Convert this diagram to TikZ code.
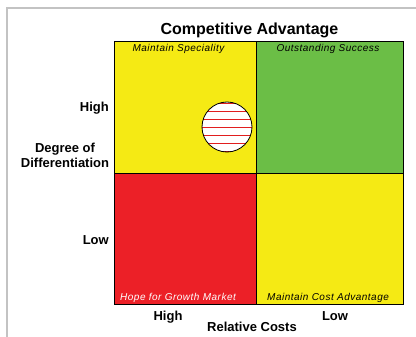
\documentclass[tikz,border=0pt]{standalone}
\usepackage{fontspec}
\setmainfont{Liberation Sans}
\newfontfamily\quadfont[LetterSpace=5]{Liberation Sans}
\definecolor{quadyellow}{RGB}{245,234,20}
\definecolor{quadgreen}{RGB}{107,190,70}
\definecolor{quadred}{RGB}{236,32,39}
\definecolor{hatchred}{RGB}{225,30,30}
\definecolor{framegray}{RGB}{195,195,195}

\begin{document}
\begin{tikzpicture}[x=1pt,y=-1pt,
  axis label/.style={font=\bfseries\fontsize{13}{15.6}\selectfont,align=center,inner sep=0pt},
  quad label/.style={font=\quadfont\itshape\fontsize{10}{12}\selectfont,inner sep=0pt},
  quad/.style={draw=black,line width=0.8pt}]

\useasboundingbox (0,0) rectangle (416,337);
\draw[framegray,line width=1.5pt] (7,337) -- (7,8) -- (416,8);

% the four quadrants
\filldraw[quad,fill=quadyellow] (114,41) rectangle (256,173);
\filldraw[quad,fill=quadgreen] (256,41) rectangle (403,173);
\filldraw[quad,fill=quadred] (114,173) rectangle (256,304);
\filldraw[quad,fill=quadyellow] (256,173) rectangle (403,304);

\node at (249.5,35) [anchor=base,inner sep=0pt,font=\bfseries\fontsize{16}{19}\selectfont] (title) {Competitive Advantage};

\node at (178.5,52) [quad label,anchor=base] (special) {Maintain Speciality};
\node at (328,52) [quad label,anchor=base] (success) {Outstanding Success};
\node at (120,301) [quad label,anchor=base west,text=white] (growth) {Hope for Growth Market};
\node at (267,301) [quad label,anchor=base west] (costadv) {Maintain Cost Advantage};

% company position
\node at (227,127) [circle,fill=white,minimum size=50pt,inner sep=0pt] (pos) {};
\begin{scope}
  \clip (227,127) circle (25);
  \foreach \dy in {-24,-16,...,24}
    \draw[hatchred,line width=0.8pt] (200,{127+\dy}) -- (254,{127+\dy});
\end{scope}
\draw[line width=0.8pt] (pos.center) circle (25);

% axis texts
\node at (109,111.7) [axis label,anchor=base east] (yhigh) {High};
\node at (109,244) [axis label,anchor=base east] (ylow) {Low};
\node at (65,167.7) [axis label,anchor=base] (ytitle) {Degree of\\Differentiation};
\node at (168,320) [axis label,anchor=base] (xhigh) {High};
\node at (335,320) [axis label,anchor=base] (xlow) {Low};
\node at (252,331.7) [axis label,anchor=base] (xtitle) {Relative Costs};
\end{tikzpicture}
\end{document}
